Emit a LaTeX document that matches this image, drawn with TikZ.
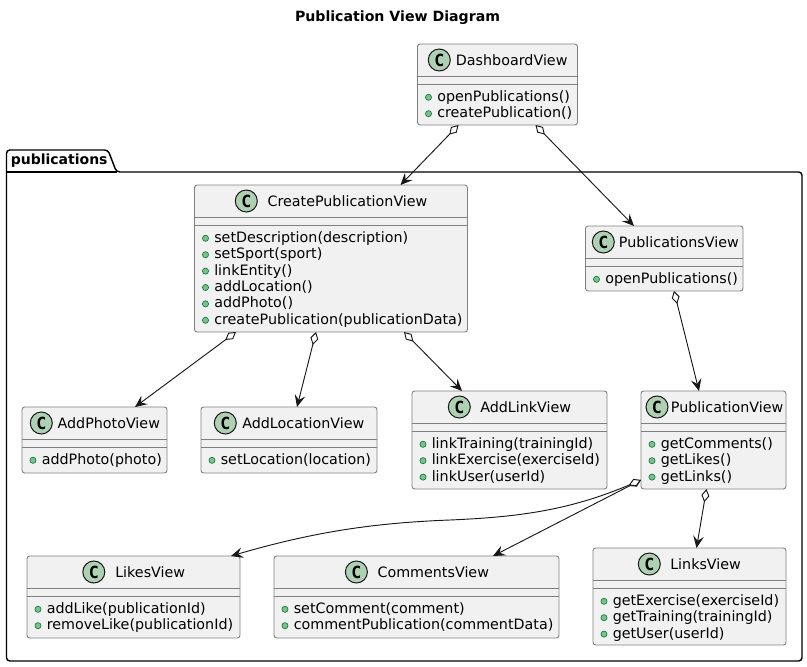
\documentclass[tikz,border=0pt]{standalone}
\usepackage{fontspec}
\setmainfont{DejaVu Sans}
\setmonofont{DejaVu Sans Mono}
\usetikzlibrary{arrows.meta}
\definecolor{boxfill}{HTML}{F1F1F1}
\definecolor{boxline}{HTML}{808080}
\definecolor{inkline}{HTML}{181818}
\definecolor{spotfill}{HTML}{ADD1B2}
\definecolor{dotfill}{HTML}{84BE84}
\definecolor{dotline}{HTML}{038048}
\def\px{0.75pt}
\tikzset{
    classbox/.style={draw=boxline, fill=boxfill, line width=0.7pt, rounded corners=2pt, anchor=north west, inner sep=0, outer sep=0},
    classline/.style={draw=boxline, line width=0.7pt},
    spot/.style={draw=inkline, fill=spotfill, line width=0.75pt, circle, minimum size=16.5pt, inner sep=0, font=\fontsize{12.5}{12}\ttfamily\bfseries},
    classtitle/.style={anchor=west, inner sep=0, text height=9.5pt, text depth=2pt, font=\fontsize{10.72}{12}\selectfont},
    membertext/.style={classtitle, text height=8pt},
    memberdot/.style={draw=dotline, fill=dotfill, line width=0.5pt, circle, minimum size=4.6pt, inner sep=0},
    aggregates/.style={draw=inkline, line width=0.7pt, {Diamond[open, fill=white, length=10pt, width=6pt]}-{Stealth[length=9pt, width=8pt, inset=3.5pt]}}
}
% name, left, top, width, height, spot x, title x, title, members
\newcommand{\umlclass}[9]{
    \node[classbox, minimum width=#4*\px, minimum height=#5*\px] (#1) at (#2,#3) {};
    \draw[classline] ([yshift=-32*\px]#1.north west) -- ([yshift=-32*\px]#1.north east);
    \draw[classline] ([yshift=-40*\px]#1.north west) -- ([yshift=-40*\px]#1.north east);
    \node[spot] (#1 spot) at (#6,#3+16) {C};
    \node[classtitle] (#1 title) at (#7,#3+16) {#8};
    \foreach \member [count=\i] in {#9} {
        \node[memberdot] (#1 dot \i) at ({#2+11},{#3+53.3+(\i-1)*16.4}) {};
        \node[membertext] (#1 member \i) at ({#2+19.5},{#3+53.3+(\i-1)*16.4}) {\member};
    }
}
\begin{document}
\begin{tikzpicture}[x=0.75pt, y=-0.75pt]
    \useasboundingbox (0,0) rectangle (807,667);
    \node[font=\fontsize{10.6}{12}\bfseries, inner sep=0] (diagramtitle) at (397.5,18) {Publication View Diagram};

    % package
    \draw[black, line width=1.1pt, rounded corners=2.5pt] (6.5,172) -- (6.5,150) -- (108,150) -- (116.5,172) -- (802,172) -- (802,661) -- (6.5,661) -- cycle;
    \draw[black, line width=1.1pt] (6.5,172) -- (116.5,172);
    \node[anchor=west, inner sep=0, text height=8pt, text depth=2pt, font=\fontsize{10.5}{12}\bfseries] (packagename) at (10.5,160.5) {publications};

    \umlclass{dashboard}{417.5}{44}{160}{81}{439.3}{455.7}{DashboardView}{openPublications(),createPublication()}
    \umlclass{createview}{194.5}{185}{273}{147}{246.3}{267.3}{CreatePublicationView}{setDescription(description),setSport(sport),linkEntity(),addLocation(),addPhoto(),createPublication(publicationData)}
    \umlclass{listview}{585.5}{226}{157.5}{65}{603.3}{618.7}{PublicationsView}{openPublications()}
    \umlclass{pubview}{641}{391}{145}{98}{657}{670.7}{PublicationView}{getComments(),getLikes(),getLinks()}
    \umlclass{photoview}{22}{407}{145}{66}{41.3}{57.3}{AddPhotoView}{addPhoto(photo)}
    \umlclass{locationview}{201}{407}{176}{66}{225.3}{242}{AddLocationView}{setLocation(location)}
    \umlclass{linkview}{412}{391}{195}{98}{459.3}{480}{AddLinkView}{linkTraining(trainingId),linkExercise(exerciseId),linkUser(userId)}
    \umlclass{likesview}{27}{556}{213}{82}{93.8}{115}{LikesView}{addLike(publicationId),removeLike(publicationId)}
    \umlclass{commentsview}{274}{556}{285}{82}{356.4}{377.3}{CommentsView}{setComment(comment),commentPublication(commentData)}
    \umlclass{linksview}{593}{548}{193}{97}{649.3}{670}{LinksView}{getExercise(exerciseId),getTraining(trainingId),getUser(userId)}

    \coordinate (likesbend) at (450,520);

    \draw[aggregates] ([xshift=41*\px]dashboard.south west) -- ([xshift=-67*\px]createview.north east);
    \draw[aggregates] ([xshift=118*\px]dashboard.south west) -- ([xshift=48.5*\px]listview.north west);
    \draw[aggregates] ([xshift=41.5*\px]createview.south west) -- ([xshift=-32*\px]photoview.north east);
    \draw[aggregates] ([xshift=121.5*\px]createview.south west) -- ([xshift=96*\px]locationview.north west);
    \draw[aggregates] ([xshift=209.5*\px]createview.south west) -- ([xshift=50*\px]linkview.north west);
    \draw[aggregates] ([xshift=88.5*\px]listview.south west) -- ([xshift=58*\px]pubview.north west);
    \draw[aggregates] ([xshift=65.5*\px]pubview.south west) -- ([xshift=103.5*\px]linksview.north west);
    \draw[aggregates] ([yshift=9*\px]pubview.south west) -- ([xshift=-66*\px]commentsview.north east);
    \draw[aggregates] ([yshift=9*\px]pubview.south west) .. controls (570,510) and (520,517) .. (likesbend) .. controls (370,523) and (310,533) .. ([xshift=-9*\px]likesview.north east);
\end{tikzpicture}
\end{document}
